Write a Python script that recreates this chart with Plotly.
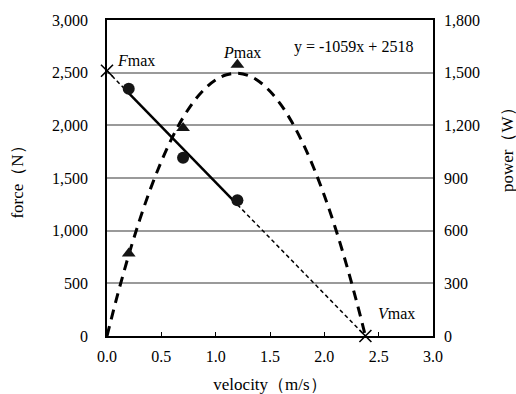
import plotly.graph_objects as go

# measured data
velocity = [0.2, 0.7, 1.2]
force = [2347, 1693, 1288]
power = [470, 1185, 1545]

# regression (force-velocity) line
slope = -1059
intercept = 2518
f_max = 2518
v_max = 2.378

# power curve
curve_v = [0, 0.1, 0.2, 0.3, 0.4, 0.5, 0.6, 0.7, 0.8, 0.9, 1.0, 1.1, 1.2, 1.3,
           1.4, 1.5, 1.6, 1.7, 1.8, 1.9, 2.0, 2.1, 2.2, 2.3, 2.378]
curve_p = [0, 241, 461, 660, 838, 994, 1130, 1244, 1337, 1408, 1459, 1488, 1497, 1484,
           1450, 1394, 1318, 1220, 1101, 961, 800, 618, 414, 189, 0]

x_ticks = [0.0, 0.5, 1.0, 1.5, 2.0, 2.5, 3.0]
y_ticks = [0, 500, 1000, 1500, 2000, 2500, 3000]
y2_ticks = [0, 300, 600, 900, 1200, 1500, 1800]

SERIF = "Liberation Serif, Times New Roman, serif"
fig = go.Figure()

# dotted extrapolations
fig.add_trace(go.Scatter(x=[0, velocity[0]], y=[f_max, slope * velocity[0] + intercept],
                         mode="lines", line=dict(color="black", width=1.5, dash="4px,3px"),
                         showlegend=False, hoverinfo="skip"))
fig.add_trace(go.Scatter(x=[velocity[-1], v_max], y=[slope * velocity[-1] + intercept, 0],
                         mode="lines", line=dict(color="black", width=1.5, dash="4px,3px"),
                         showlegend=False, hoverinfo="skip"))
# solid regression
fig.add_trace(go.Scatter(x=[velocity[0], velocity[-1]],
                         y=[slope * velocity[0] + intercept, slope * velocity[-1] + intercept],
                         mode="lines", line=dict(color="black", width=2.5),
                         showlegend=False, hoverinfo="skip"))
# power curve
fig.add_trace(go.Scatter(x=curve_v, y=curve_p, yaxis="y2", mode="lines",
                         line=dict(color="black", width=3, dash="10px,7px", shape="spline"),
                         showlegend=False, hoverinfo="skip"))
# force points
fig.add_trace(go.Scatter(x=velocity, y=force, mode="markers",
                         marker=dict(symbol="circle", size=12, color="#151515"),
                         showlegend=False, cliponaxis=False))
# power points
fig.add_trace(go.Scatter(x=velocity, y=power, yaxis="y2", mode="markers",
                         marker=dict(symbol="triangle-up", size=12, color="#151515"),
                         showlegend=False, cliponaxis=False))
# Fmax / Vmax crosses
fig.add_trace(go.Scatter(x=[0, v_max], y=[f_max, 0], mode="markers",
                         marker=dict(symbol="x-thin", size=12, line=dict(color="black", width=1.6)),
                         showlegend=False, cliponaxis=False))

PL, PR, PT, PB = 107, 83, 20, 58
PW, PH = 516 - PL - PR, 394 - PT - PB

fig.update_layout(
    width=516, height=394,
    margin=dict(l=PL, r=PR, t=PT, b=PB, autoexpand=False),
    paper_bgcolor="white", plot_bgcolor="white",
    font=dict(family=SERIF, size=16, color="black"),
    xaxis=dict(range=[0, 3], tickvals=x_ticks, ticktext=[f"{v:.1f}" for v in x_ticks],
               showgrid=False, zeroline=False, showline=True, linecolor="black", linewidth=1.5,
               mirror=True, ticks="inside", ticklen=4, tickcolor="black", automargin=False,
               ticklabelstandoff=5, tickfont=dict(family=SERIF, size=16),
               title=dict(text="velocity（m/s）", font=dict(family=SERIF, size=17), standoff=18)),
    yaxis=dict(range=[0, 3000], tickvals=y_ticks, ticktext=[f"{v:,}" for v in y_ticks],
               showgrid=True, gridcolor="#9a9a9a", gridwidth=1.5, zeroline=False,
               showline=True, linecolor="black", linewidth=1.5, mirror=True, ticks="",
               automargin=False,
               ticklabelstandoff=14, tickfont=dict(family=SERIF, size=16),
               title=dict(text="force（N）", font=dict(family=SERIF, size=17), standoff=24)),
    yaxis2=dict(range=[0, 1800], tickvals=y2_ticks, ticktext=[f"{v:,}" for v in y2_ticks],
                overlaying="y", side="right", showgrid=False, zeroline=False,
                showline=False, ticks="", ticklabelstandoff=10, automargin=False,
                tickfont=dict(family=SERIF, size=16)),
    annotations=[
        dict(x=0.07, y=f_max + 100, xref="x", yref="y", text="<i>F</i>max", showarrow=False,
             xanchor="left", yanchor="middle", font=dict(family=SERIF, size=16)),
        dict(x=1.24, y=1615, xref="x", yref="y2", text="<i>P</i>max", showarrow=False,
             xanchor="center", yanchor="middle", font=dict(family=SERIF, size=16)),
        dict(x=2.66, y=215, xref="x", yref="y", text="<i>V</i>max", showarrow=False,
             xanchor="center", yanchor="middle", font=dict(family=SERIF, size=16)),
        dict(x=2.83, y=2740, xref="x", yref="y", text="y = -1059x + 2518", showarrow=False,
             xanchor="right", yanchor="middle", font=dict(family=SERIF, size=16)),
        dict(x=(507 - PL) / PW, y=(394 - PB - 146) / PH, xref="paper", yref="paper",
             xanchor="center", yanchor="middle",
             text="power（W）", showarrow=False, textangle=-90,
             font=dict(family=SERIF, size=17)),
    ],
)

fig.write_html("out.html")
